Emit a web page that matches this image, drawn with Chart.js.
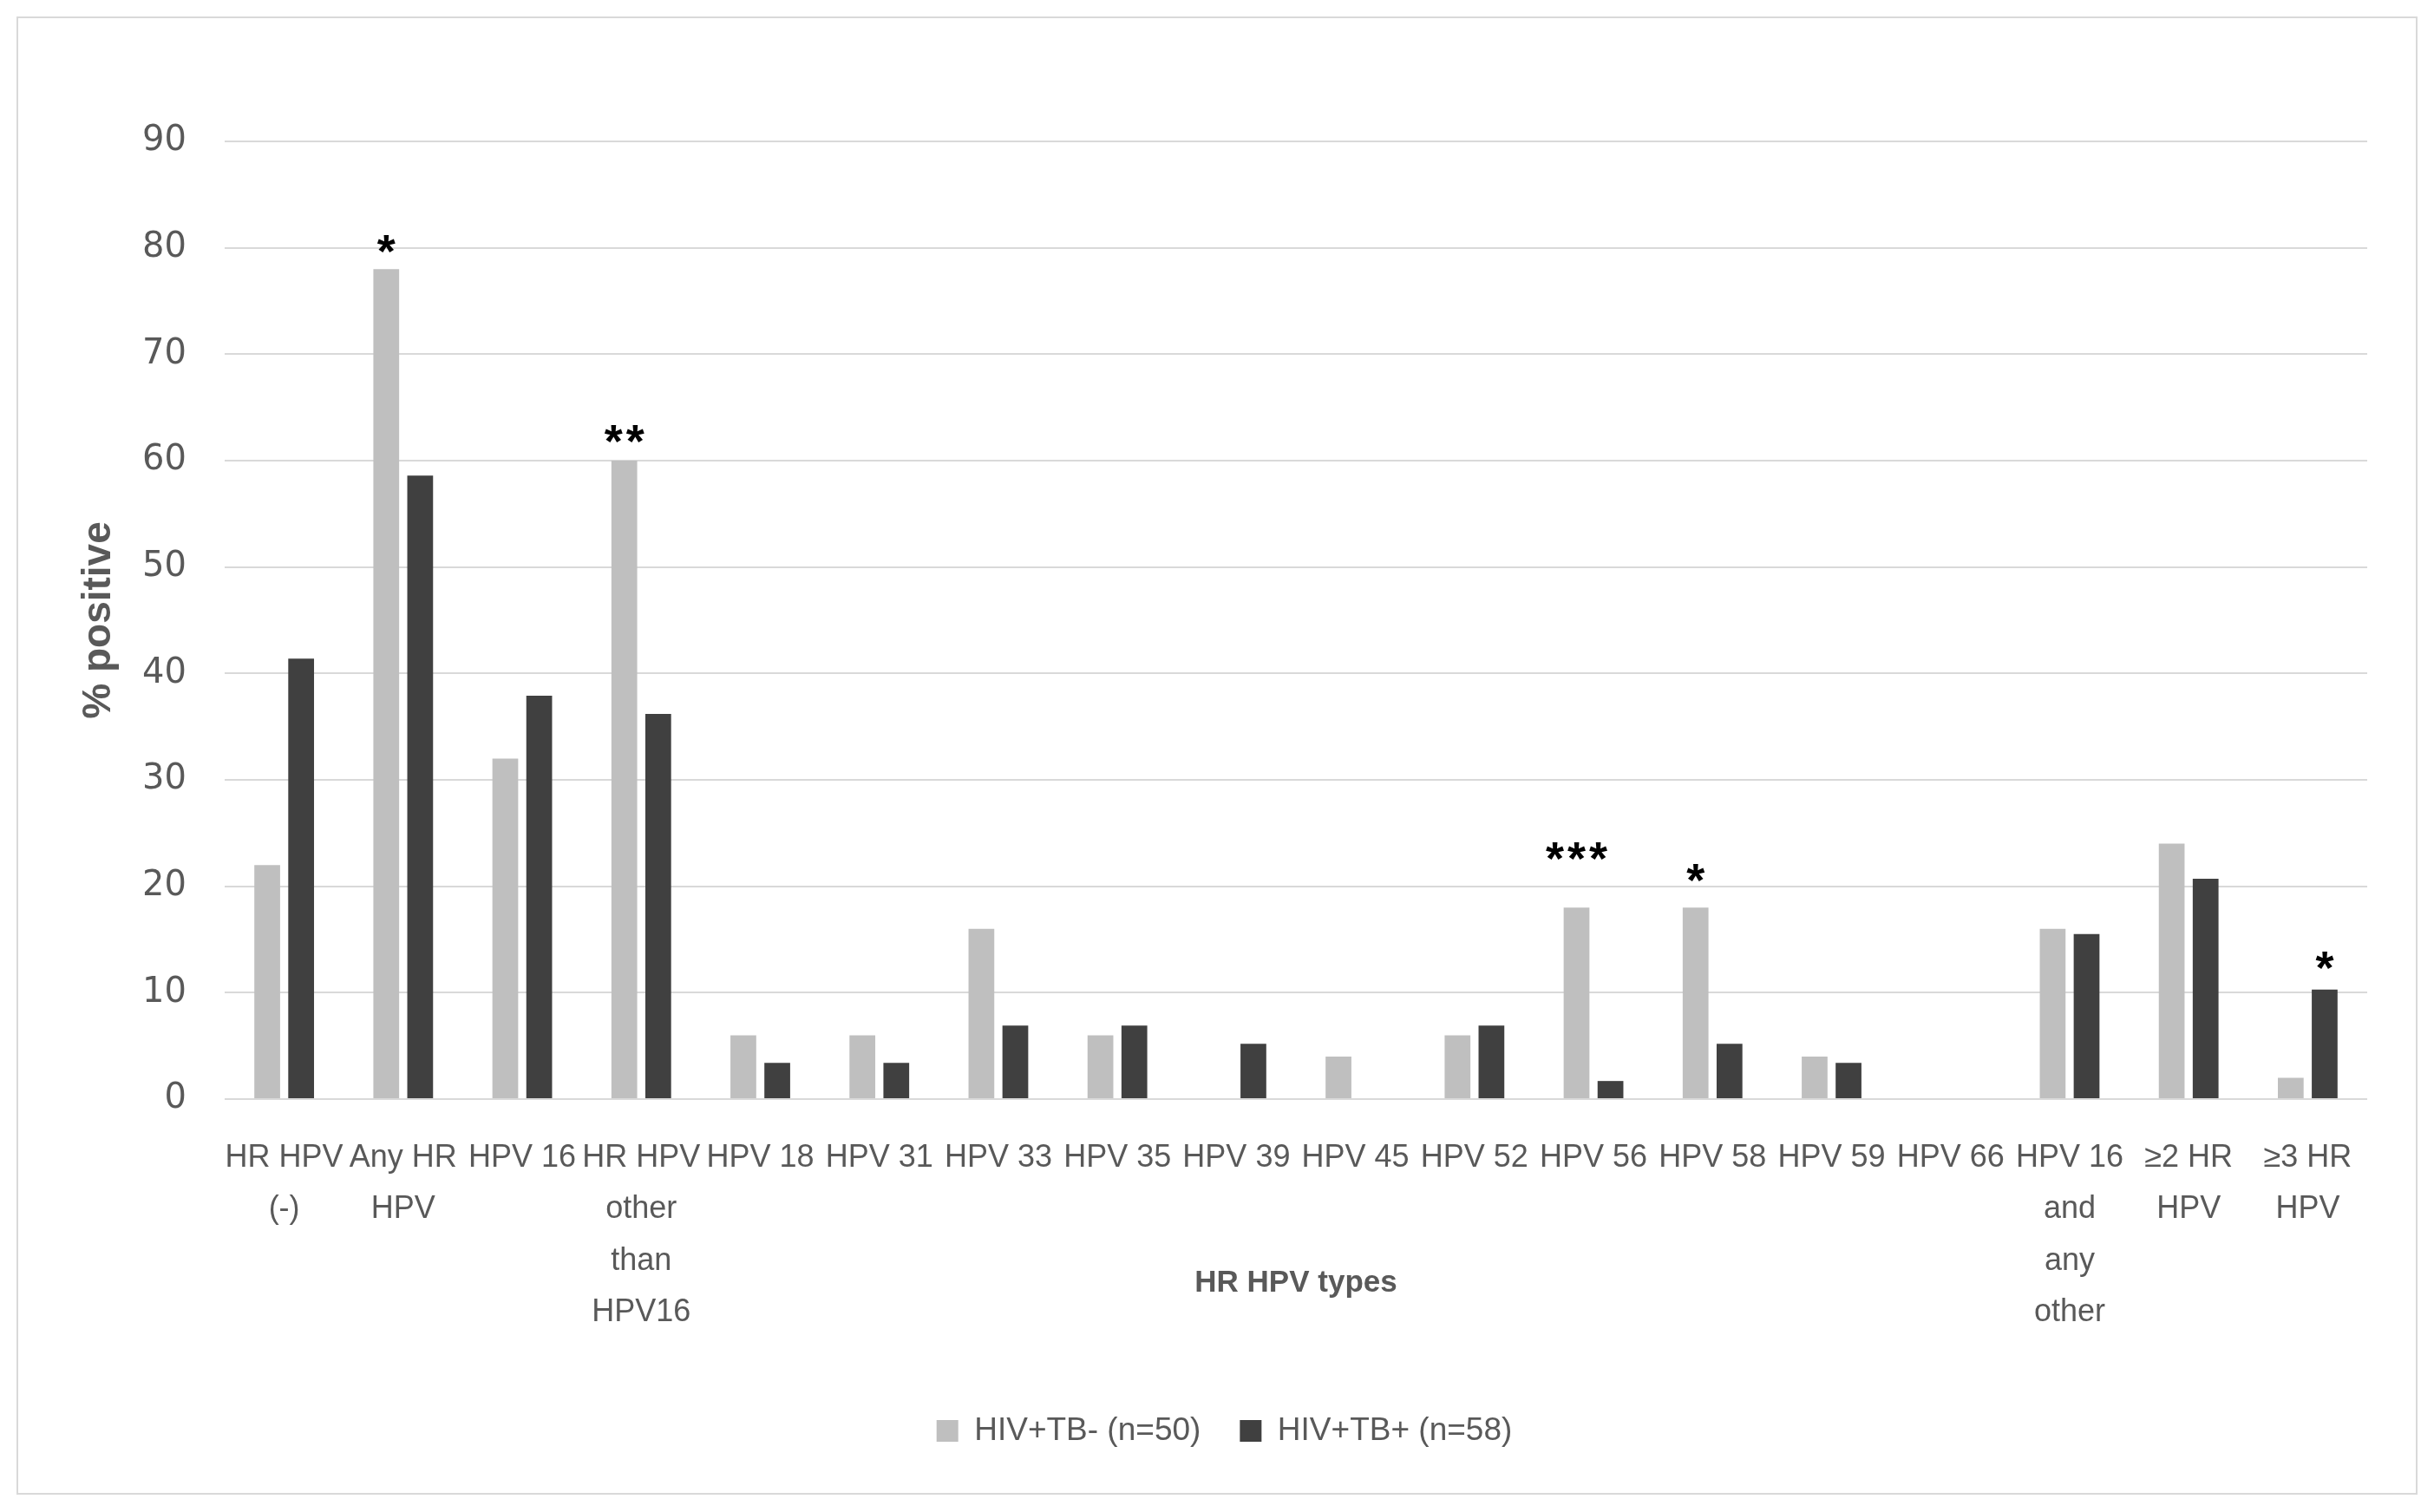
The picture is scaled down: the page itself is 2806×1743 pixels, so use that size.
<!DOCTYPE html>
<html><head><meta charset="utf-8">
<script src="https://cdn.jsdelivr.net/npm/chart.js@4.4.0/dist/chart.umd.min.js"></script>
<style>
html,body{margin:0;padding:0;background:#fff;}
#wrap{position:relative;width:2806px;height:1743px;}
#frame{position:absolute;left:19px;top:19px;width:2768px;height:1704px;border:2px solid #d9d9d9;box-sizing:border-box;pointer-events:none;}
canvas{position:absolute;left:0;top:0;}
</style></head><body>
<div id="wrap"><canvas id="c" width="2806" height="1743"></canvas><div id="frame"></div></div>
<script>
// ---- data ----
const categories = [
  ["HR HPV", "(-)"],
  ["Any HR", "HPV"],
  ["HPV 16"],
  ["HR HPV", "other", "than", "HPV16"],
  ["HPV 18"], ["HPV 31"], ["HPV 33"], ["HPV 35"], ["HPV 39"], ["HPV 45"],
  ["HPV 52"], ["HPV 56"], ["HPV 58"], ["HPV 59"], ["HPV 66"],
  ["HPV 16", "and", "any", "other"],
  ["\u22652 HR", "HPV"],
  ["\u22653 HR", "HPV"]
];
const seriesNames = ["HIV+TB- (n=50)", "HIV+TB+ (n=58)"];
const hivTbNeg = [22, 78, 32, 60, 6, 6, 16, 6, 0, 4, 6, 18, 18, 4, 0, 16, 24, 2];
const hivTbPos = [41.4, 58.6, 37.9, 36.2, 3.4, 3.4, 6.9, 6.9, 5.2, 0, 6.9, 1.7, 5.2, 3.4, 0, 15.5, 20.7, 10.3];
const yMin = 0, yMax = 90, yStep = 10;
const xTitle = "HR HPV types";
const yTitle = "% positive";
// significance marks: category index, dataset index, label level (value units), text
const sigCats = [1, 3, 11, 12, 17];
const sigSeries = [0, 0, 0, 0, 1];
const sigLevels = [80.9, 63.0, 23.8, 21.8, 13.5];
const sigTexts = ["*", "**", "***", "*", "*"];

const colNeg = "#bfbfbf", colPos = "#404040", txt = "#595959", grid = "#d9d9d9";
const sans = "'Liberation Sans', Arial, sans-serif";

const sigPlugin = {
  id: "sig",
  afterDatasetsDraw(chart) {
    const ctx = chart.ctx, ys = chart.scales.y;
    ctx.save();
    ctx.fillStyle = "#000";
    ctx.font = "bold 54px 'Liberation Sans', sans-serif";
    ctx.textAlign = "center";
    ctx.textBaseline = "alphabetic";
    try { ctx.letterSpacing = "4px"; } catch (e) {}
    sigCats.forEach((c, i) => {
      const el = chart.getDatasetMeta(sigSeries[i]).data[c];
      const y = ys.getPixelForValue(sigLevels[i]);
      ctx.fillText(sigTexts[i], el.x + 2, y + 33);
    });
    ctx.restore();
  }
};

new Chart(document.getElementById("c"), {
  type: "bar",
  data: {
    labels: categories,
    datasets: [
      { label: seriesNames[0], data: hivTbNeg, backgroundColor: colNeg, borderWidth: 0 },
      { label: seriesNames[1], data: hivTbPos, backgroundColor: colPos, borderWidth: 0 }
    ]
  },
  options: {
    responsive: false, animation: false, devicePixelRatio: 1,
    datasets: { bar: { barPercentage: 0.76, categoryPercentage: 0.57 } },
    layout: { padding: { left: 94, top: 163, right: 77, bottom: 65 } },
    plugins: {
      tooltip: { enabled: false },
      legend: {
        position: "bottom",
        labels: { boxWidth: 25, boxHeight: 25, padding: 45, color: txt, font: { family: sans, size: 37 } }
      }
    },
    scales: {
      x: {
        grid: { display: false },
        border: { display: false },
        ticks: { color: txt, font: { family: sans, size: 36, lineHeight: 1.64 }, padding: 31, maxRotation: 0, autoSkip: false },
        title: { display: true, text: xTitle, color: txt, font: { family: sans, size: 35, weight: "bold" }, padding: { top: 0, bottom: 86 } },
        afterFit(s) { s.height = 319; }
      },
      y: {
        min: yMin, max: yMax,
        grid: { color: grid, lineWidth: 2, drawTicks: false },
        border: { display: false },
        ticks: { stepSize: yStep, color: txt, font: { family: "'DejaVu Sans', sans-serif", size: 40 }, padding: 44 },
        title: { display: true, text: yTitle, color: txt, font: { family: sans, size: 46, weight: "bold" }, padding: { top: -7, bottom: 0 } },
        afterFit(s) { s.width = 165; }
      }
    }
  },
  plugins: [sigPlugin]
});
</script>
</body></html>
